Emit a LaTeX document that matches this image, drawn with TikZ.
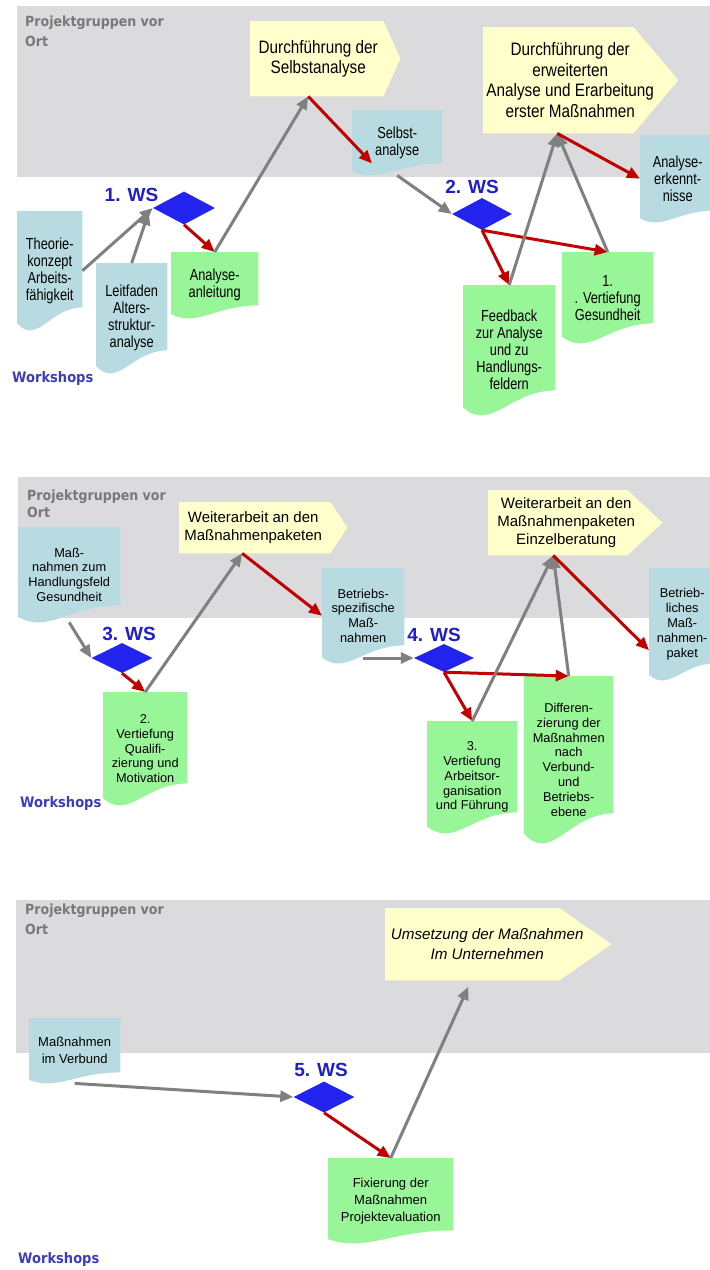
\documentclass[tikz,border=0pt]{standalone}
\usepackage{fontspec}
\setmainfont{Liberation Sans}
\newfontfamily\tallfont[FakeStretch=0.85]{Liberation Sans}
\newfontfamily\tallerfont[FakeStretch=0.8]{Liberation Sans}
\newfontfamily\headfont[FakeStretch=0.9]{DejaVu Sans}
\usetikzlibrary{shapes.geometric,arrows.meta,calc,positioning}
\pgfdeclarelayer{bg}
\pgfsetlayers{bg,main}
\definecolor{bandgray}{RGB}{219,219,221}
\definecolor{docblue}{RGB}{183,219,224}
\definecolor{docgreen}{RGB}{152,245,152}
\definecolor{yel}{RGB}{255,255,204}
\definecolor{wsblue}{RGB}{35,35,240}
\definecolor{wstext}{RGB}{30,30,205}
\definecolor{wkblue}{RGB}{60,60,190}
\definecolor{headgray}{RGB}{120,120,120}
\definecolor{arrgray}{RGB}{128,128,128}
\definecolor{arrred}{RGB}{195,0,0}
% paper sheet with wavy bottom behind node #1
\newcommand\docshape[3]{\begin{pgfonlayer}{bg}
  \fill[#2] (#1.north west) -- (#1.north east) -- ($(#1.south east)+(0,-#3)$)
    .. controls ($(#1.south)+(0,-#3)$) and ($(#1.south west)!.3!(#1.south east)+(0,.7*#3)$)
    .. ($(#1.south west)+(0,-.33*#3)$) -- cycle;
\end{pgfonlayer}}
% yellow step arrow behind node #1
\newcommand\yelshape[3]{\begin{pgfonlayer}{bg}
  \fill[yel] (#1.north west) -- ([xshift=#2]#1.north east) -- ([xshift=#3]#1.east)
    -- ([xshift=#2]#1.south east) -- (#1.south west) -- cycle;
\end{pgfonlayer}}
\begin{document}
\begin{tikzpicture}[x=1pt,y=-1pt,
  doc/.style={anchor=north west,inner sep=1pt,align=center},
  yelbox/.style={anchor=north west,inner sep=1pt,align=center},
  wsd/.style={diamond,fill=wsblue,inner sep=0pt},
  wslbl/.style={text=wstext,font=\fontsize{19}{22}\selectfont\bfseries,inner sep=0pt},
  hd/.style={anchor=north west,inner sep=0pt,align=left,text=headgray},
  wk/.style={anchor=north west,inner sep=0pt,text=wkblue,font=\headfont\bfseries\fontsize{14.5}{17}\selectfont},
  garr/.style={draw=arrgray,line width=3pt,-{Triangle[length=13pt,width=11pt]}},
  rarr/.style={garr,draw=arrred}]
\begin{pgfonlayer}{bg}
\fill[white] (0,0) rectangle (710,1270);
\fill[bandgray] (17,6) rectangle (710,177);
\fill[bandgray] (18,477) rectangle (710,618);
\fill[bandgray] (16,900) rectangle (710,1053);
\end{pgfonlayer}
\useasboundingbox (0,0) rectangle (710,1270);

% first round
\begin{scope}[doc/.append style={font=\tallerfont\fontsize{16}{17}\selectfont},
  yelbox/.append style={font=\tallfont\fontsize{18}{20.5}\selectfont},
  hd/.append style={font=\headfont\bfseries\fontsize{14}{20}\selectfont}]
\node[hd] (pg1) at (25,16) {Projektgruppen vor\\Ort};
\node[wk] (wk1) at (12,371) {Workshops};
\node[yelbox,minimum width=136,minimum height=75] (y1) at (250,21) {Durchführung der\\Selbstanalyse};
\yelshape{y1}{-3}{14}
\node[yelbox,minimum width=174,minimum height=106] (y2) at (483,27) {Durchführung der\\erweiterten\\Analyse und Erarbeitung\\erster Maßnahmen};
\yelshape{y2}{-24}{21}
\node[doc,minimum width=65,minimum height=119] (theo) at (17,211) {Theorie-\\konzept\\Arbeits-\\fähigkeit};
\docshape{theo}{docblue}{23}
\node[doc,minimum width=71,minimum height=110] (leit) at (96,263) {Leitfaden\\Alters-\\struktur-\\analyse};
\docshape{leit}{docblue}{23}
\node[doc,minimum width=87,minimum height=66] (anl) at (171,252) {Analyse-\\anleitung};
\docshape{anl}{docgreen}{13}
\node[doc,minimum width=90,minimum height=65] (selbst) at (352,110) {Selbst-\\analyse};
\docshape{selbst}{docblue}{12}
\node[doc,minimum width=75,minimum height=87] (erk) at (640,135) {Analyse-\\erkennt-\\nisse};
\docshape{erk}{docblue}{12}
\node[doc,minimum width=92,minimum height=130] (feed) at (463,285) {Feedback\\zur Analyse\\und zu\\Handlungs-\\feldern};
\docshape{feed}{docgreen}{25}
\node[doc,minimum width=91,minimum height=91] (vert1) at (562,252) {1.\\. Vertiefung\\Gesundheit};
\docshape{vert1}{docgreen}{20}
\node[wsd,minimum width=62,minimum height=33] (d1) at (184,208) {};
\node[wslbl,above left=-2pt and 10pt of d1] (l1) {1. WS};
\node[wsd,minimum width=60,minimum height=32] (d2) at (482,214) {};
\node[wslbl,above=4pt of d2,xshift=-10pt] (l2) {2. WS};
\end{scope}
\draw[garr] (theo.east) -- (d1.west);
\draw[garr] (leit.north) -- ([shift={(-4,4)}]d1.west);
\draw[rarr] (d1.south) -- (anl.north);
\draw[garr] (anl.north) -- ([xshift=-10pt]y1.south);
\draw[rarr] ([xshift=-10pt]y1.south) -- ([shift={(20,-12)}]selbst.south west);
\draw[garr] (selbst.south) -- (d2.west);
\draw[rarr] (d2.south) -- (feed.north);
\draw[rarr] (d2.south) -- (vert1.north);
\draw[garr] (feed.north) -- ([xshift=-13pt]y2.south);
\draw[garr] (vert1.north) -- ([xshift=-13pt]y2.south);
\draw[rarr] ([xshift=-13pt]y2.south) -- (erk.west);

% second round
\begin{scope}[doc/.append style={font=\fontsize{12.8}{14.8}\selectfont},
  yelbox/.append style={font=\fontsize{15}{17.8}\selectfont},
  hd/.append style={font=\headfont\bfseries\fontsize{14}{17}\selectfont}]
\node[hd] (pg2) at (27,490) {Projektgruppen vor\\Ort};
\node[wk] (wk2) at (20,796) {Workshops};
\node[yelbox,minimum width=148,minimum height=51] (w1) at (179,502) {Weiterarbeit an den\\Maßnahmenpaketen};
\yelshape{w1}{3}{20}
\node[yelbox,minimum width=156,minimum height=65] (w2) at (488,490) {Weiterarbeit an den\\Maßnahmenpaketen\\Einzelberatung};
\yelshape{w2}{-17}{18}
\node[doc,minimum width=102,minimum height=95] (mhand) at (18,527) {Maß-\\nahmen zum\\Handlungsfeld\\Gesundheit};
\docshape{mhand}{docblue}{17}
\node[doc,minimum width=84,minimum height=113] (ver2) at (103,692) {2.\\Vertiefung\\Qualifi-\\zierung und\\Motivation};
\docshape{ver2}{docgreen}{22}
\node[doc,minimum width=82,minimum height=95] (bspez) at (322,568) {Betriebs-\\spezifische\\Maß-\\nahmen};
\docshape{bspez}{docblue}{18}
\node[doc,minimum width=66,minimum height=112] (bpak) at (649,568) {Betrieb-\\liches\\Maß-\\nahmen-\\paket};
\docshape{bpak}{docblue}{17}
\node[doc,minimum width=90,minimum height=112] (ver3) at (427,721) {3.\\Vertiefung\\Arbeitsor-\\ganisation\\und Führung};
\docshape{ver3}{docgreen}{21}
\node[doc,minimum width=89,minimum height=167] (diff) at (524,676) {Differen-\\zierung der\\Maßnahmen\\nach\\Verbund-\\und\\Betriebs-\\ebene};
\docshape{diff}{docgreen}{30}
\node[wsd,minimum width=61,minimum height=30] (d3) at (122,658) {};
\node[wslbl,above=1.5pt of d3,xshift=7pt] (l3) {3. WS};
\node[wsd,minimum width=60,minimum height=28] (d4) at (444,658) {};
\node[wslbl,above=2pt of d4,xshift=-10pt] (l4) {4. WS};
\end{scope}
\draw[garr] (mhand.south) -- (d3.west);
\draw[rarr] (d3.south) -- (ver2.north);
\draw[garr] (ver2.north) -- ([xshift=-11pt]w1.south);
\draw[rarr] ([xshift=-11pt]w1.south) -- (bspez.west);
\draw[garr] (bspez.south |- d4.west) -- (d4.west);
\draw[rarr] (d4.south) -- (ver3.north);
\draw[rarr] (d4.south) -- (diff.north);
\draw[garr] (ver3.north) -- ([xshift=-13pt]w2.south);
\draw[garr] (diff.north) -- ([xshift=-13pt]w2.south);
\draw[rarr] ([xshift=-13pt]w2.south) -- ([yshift=-26pt]bpak.west);

% third round
\begin{scope}[doc/.append style={font=\fontsize{13}{17}\selectfont},
  yelbox/.append style={font=\itshape\fontsize{15.2}{20}\selectfont},
  hd/.append style={font=\headfont\bfseries\fontsize{14}{20}\selectfont}]
\node[hd] (pg3) at (25,904) {Projektgruppen vor\\Ort};
\node[wk] (wk3) at (18,1252) {Workshops};
\node[yelbox,minimum width=204,minimum height=72] (y3) at (385,908) {Umsetzung der Maßnahmen\\Im Unternehmen};
\yelshape{y3}{-30}{22}
\node[doc,minimum width=91,minimum height=65] (mverb) at (29,1018) {Maßnahmen\\im Verbund};
\docshape{mverb}{docblue}{11}
\node[doc,minimum width=125,minimum height=85] (fix) at (328,1158) {Fixierung der\\Maßnahmen\\Projektevaluation};
\docshape{fix}{docgreen}{13}
\node[wsd,minimum width=61,minimum height=31] (d5) at (324,1097) {};
\node[wslbl,above=4pt of d5,xshift=-3pt] (l5) {5. WS};
\end{scope}
\draw[garr] (mverb.south) -- (d5.west);
\draw[rarr] (d5.south) -- (fix.north);
\draw[garr,shorten >=7pt] (fix.north) -- ([xshift=-16pt]y3.south);
\end{tikzpicture}
\end{document}
